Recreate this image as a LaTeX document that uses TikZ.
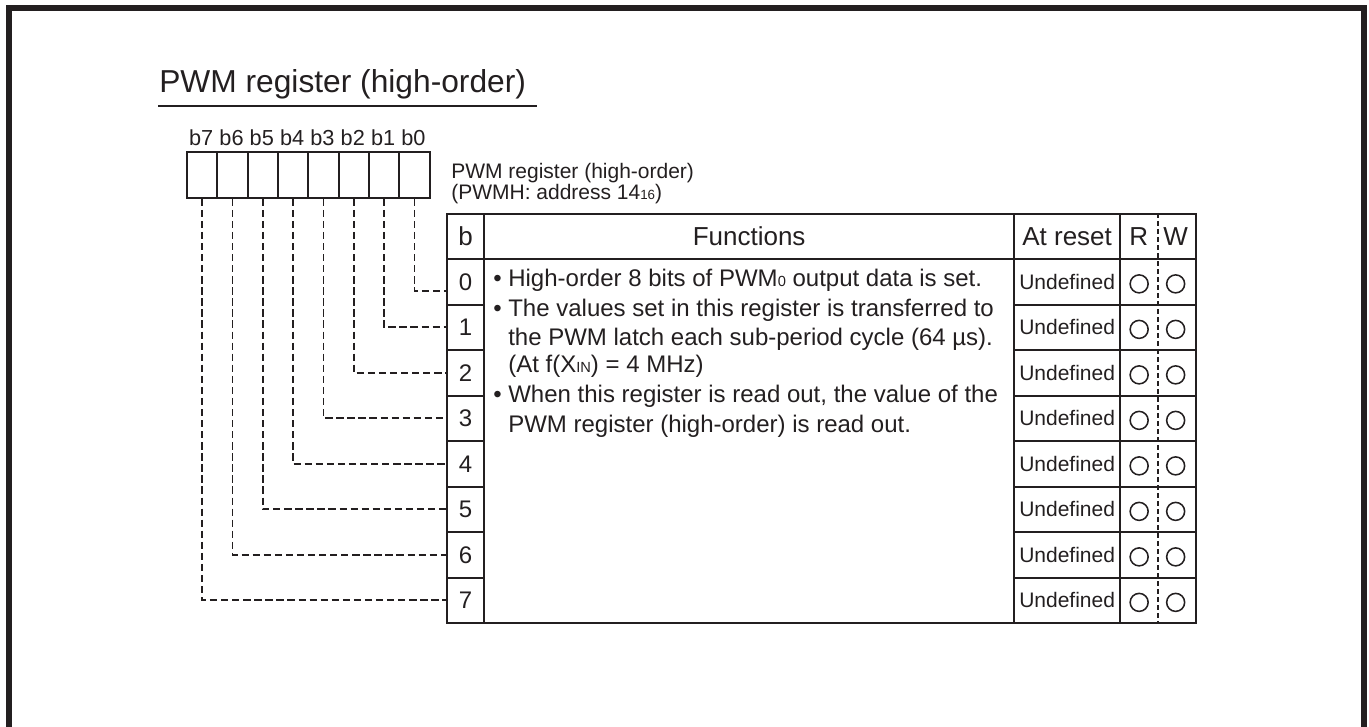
\documentclass[tikz,border=0pt]{standalone}
\usepackage{fontspec}
\setmainfont{Liberation Sans}
\usetikzlibrary{calc}
\definecolor{ink}{RGB}{35,31,32}
\newcommand{\myfs}[1]{\fontsize{#1}{#1}\selectfont}
\newcommand{\lowsub}[1]{{\fontsize{11pt}{11pt}\selectfont #1}}
\begin{document}
\begin{tikzpicture}[x=0.75pt,y=-0.75pt,
  frame/.style={draw=ink, line width=4.1pt},
  bitbox/.style={draw=ink, line width=1.5pt, minimum width=22.75pt, minimum height=34.3pt, inner sep=0pt, anchor=north west},
  bitlab/.style={text=ink, inner sep=0pt, font=\myfs{16.3pt}, anchor=base},
  cell/.style={draw=ink, line width=1.7pt, inner sep=0pt, anchor=north west, text=ink},
  hdr/.style={text=ink, inner sep=0pt, font=\myfs{19.5pt}},
  conn/.style={draw=ink, line width=1.4pt, dash pattern=on 5.5pt off 2.8pt},
  rwdiv/.style={draw=ink, line width=1.1pt, dash pattern=on 3.75pt off 2.25pt},
  rwcirc/.style={circle, draw=ink, line width=1.15pt, minimum size=13.5pt, inner sep=0pt},
  bodytxt/.style={text=ink, inner sep=0pt, font=\myfs{18pt}, anchor=base west},
  subtxt/.style={text=ink, inner sep=0pt, font=\myfs{15.75pt}, anchor=base west}
]
\useasboundingbox (0,0) rectangle (1369,727);
% outer frame
\draw[frame] (9,740) -- (9,8) -- (1364,8) -- (1364,740);
% title
\node[text=ink, inner sep=0pt, font=\myfs{23.8pt}, anchor=base west] (title) at (159,92.7) {PWM register (high-order)};
\draw[draw=ink, line width=1pt] (158,106) coordinate (ul1) -- (537,106) coordinate (ul2);
% bit boxes
\foreach \j in {0,...,7} {
  \pgfmathtruncatemacro\n{7-\j}
  \node[bitbox] (bit\n) at ({186+30.33*\j},151) {};
  \node[bitlab] (lab\n) at ({186+30.33*\j+15.17},146) {b\n};
}
% subtitle
\node[subtxt] (sub1) at (451,178.3) {PWM register (high-order)};
\node[subtxt] (sub2) at (451,200) {(PWMH: address 14{\fontsize{10pt}{10pt}\selectfont 16})};
% header
\node[cell, minimum width=27.75pt, minimum height=33.75pt, font=\myfs{19.5pt}] (hb) at (446,213) {b};
\node[cell, minimum width=397.5pt, minimum height=33.75pt, font=\myfs{19.5pt}] (hf) at (483,213) {Functions};
\node[cell, minimum width=79.5pt, minimum height=33.75pt, font=\myfs{19.5pt}] (hr) at (1013,213) {At reset};
\node[cell, minimum width=57pt, minimum height=33.75pt] (hrw) at (1119,213) {};
\node[hdr] (hR) at ($(hrw.center)+(-19.5,0)$) {R};
\node[hdr] (hW) at ($(hrw.center)+(17.5,0)$) {W};
% body
\node[cell, minimum width=397.5pt, minimum height=273pt] (fb) at (483,258) {};
\foreach \k in {0,...,7} {
  \node[cell, minimum width=27.75pt, minimum height=34.125pt, font=\myfs{18pt}] (r\k) at (446,{258+45.5*\k}) {\k};
  \node[cell, minimum width=79.5pt, minimum height=34.125pt, font=\myfs{15.75pt}] (u\k) at (1013,{258+45.5*\k}) {Undefined};
  \node[cell, minimum width=57pt, minimum height=34.125pt] (rw\k) at (1119,{258+45.5*\k}) {};
  \node[rwcirc] (cr\k) at ($(rw\k.center)+(-19,2)$) {};
  \node[rwcirc] (cw\k) at ($(rw\k.center)+(17.5,2)$) {};
}
\draw[rwdiv] (hrw.north) -- (rw7.south);
% function text
\node[bodytxt] (t1) at (493,286.7) {\textbullet\ High-order 8 bits of PWM\lowsub{0} output data is set.};
\node[bodytxt] (t2) at (493,316) {\textbullet\ The values set in this register is transferred to};
\node[bodytxt] (t3) at (508,345) {the PWM latch each sub-period cycle (64 µs).};
\node[bodytxt] (t4) at (508,372) {(At f(X\lowsub{IN}) = 4 MHz)};
\node[bodytxt] (t5) at (493,402.7) {\textbullet\ When this register is read out, the value of the};
\node[bodytxt] (t6) at (508,432.7) {PWM register (high-order) is read out.};
% connectors
\draw[conn] (bit0.south) |- ($(r0.west)+(0,9)$);
\foreach \k in {1,...,7} {
  \draw[conn] (bit\k.south) |- (r\k.west);
}
\end{tikzpicture}
\end{document}
